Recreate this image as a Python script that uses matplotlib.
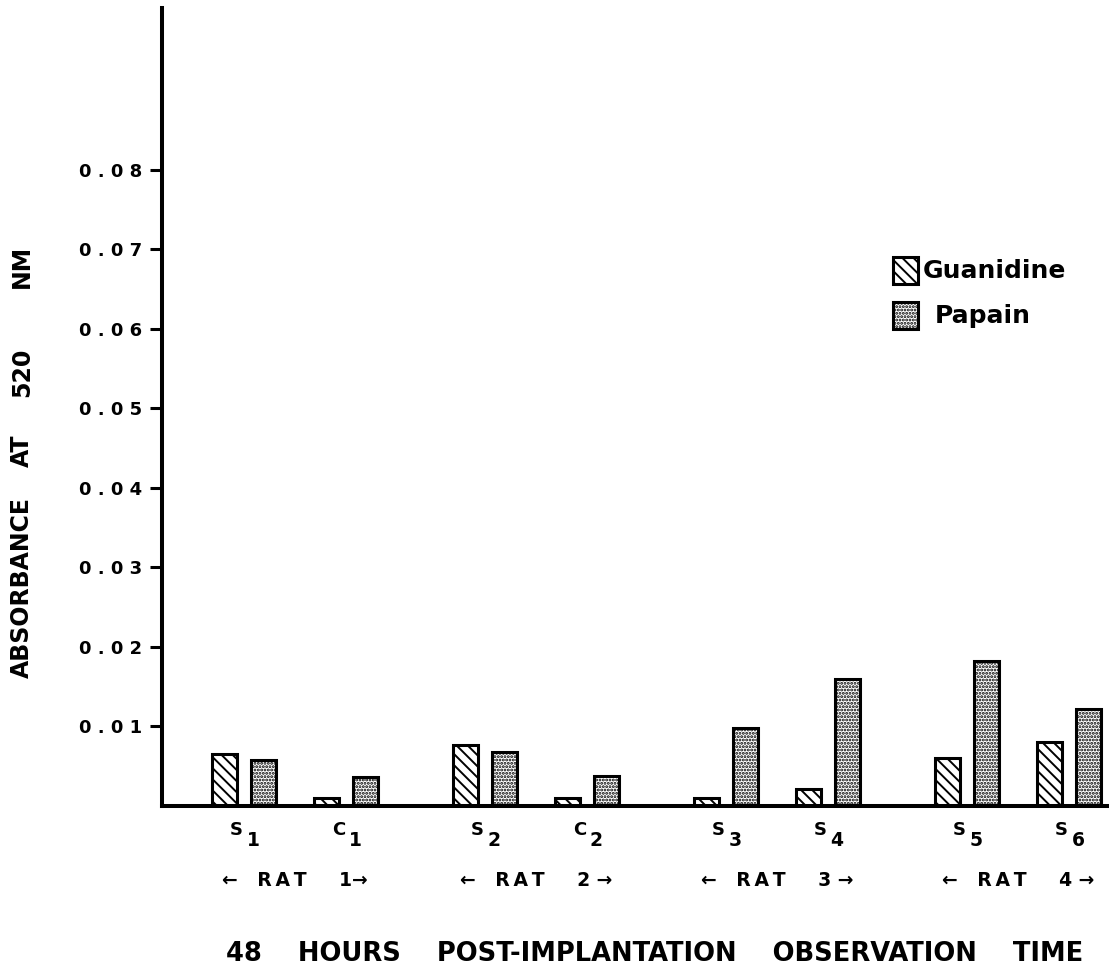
import matplotlib
matplotlib.use("Agg")
import matplotlib.pyplot as plt
from matplotlib.patches import Rectangle

# ---- data -------------------------------------------------------------
samples = ["S", "C", "S", "C", "S", "S", "S", "S"]
sample_nums = ["1", "1", "2", "2", "3", "4", "5", "6"]
rat_of_sample = [0, 0, 1, 1, 2, 2, 3, 3]
slot_in_rat = [0, 1, 0, 1, 0, 1, 0, 1]
rat_labels = ["←   R\u2009A\u2009T     1→", "←   R\u2009A\u2009T     2 →",
              "←   R\u2009A\u2009T     3 →", "←   R\u2009A\u2009T     4 →"]

guanidine = [0.0065, 0.0010, 0.0077, 0.0010, 0.0010, 0.0021, 0.0060, 0.0080]
papain = [0.0058, 0.0036, 0.0068, 0.0038, 0.0098, 0.0160, 0.0182, 0.0122]

y_ticks = [0.01, 0.02, 0.03, 0.04, 0.05, 0.06, 0.07, 0.08]
y_ticklabels = ["0 . 0 1", "0 . 0 2", "0 . 0 3", "0 . 0 4",
                "0 . 0 5", "0 . 0 6", "0 . 0 7", "0 . 0 8"]

# ---- layout -----------------------------------------------------------
W, H = 1109, 974
RAT_STEP, PAIR_STEP = 2.41, 1.02
BAR_W, BAR_OFF = 0.25, 0.195
G_HATCH, P_HATCH = "\\\\\\", "....."

plt.rcParams["font.family"] = ["DejaVu Sans"]
plt.rcParams["font.weight"] = "bold"
plt.rcParams["hatch.linewidth"] = 1.4

fig = plt.figure(figsize=(W / 100, H / 100), dpi=100)
fig.patch.set_facecolor("white")


def fx(px):
    return px / W


def fy(py):
    return 1 - py / H


ax_left, ax_bottom_px, ax_top_px = 162, 806, 8
ax = fig.add_axes([fx(ax_left), fy(ax_bottom_px), 1 - fx(ax_left),
                   (ax_bottom_px - ax_top_px) / H])

centers = [RAT_STEP * r + PAIR_STEP * j for r, j in zip(rat_of_sample, slot_in_rat)]
g_x = [c - BAR_OFF for c in centers]
p_x = [c + BAR_OFF for c in centers]

ax.bar(g_x, guanidine, width=BAR_W, facecolor="white", edgecolor="black",
       linewidth=2.2, hatch=G_HATCH, zorder=2)
ax.bar(p_x, papain, width=BAR_W, facecolor="white", edgecolor="black",
       linewidth=2.2, hatch=P_HATCH, zorder=2)

ax.set_xlim(-0.82, 8.65)
ax.set_ylim(0, 0.1003)

for side in ("top", "right"):
    ax.spines[side].set_visible(False)
for side in ("left", "bottom"):
    ax.spines[side].set_linewidth(2.9)
    ax.spines[side].set_zorder(3)

ax.set_xticks([])
ax.set_yticks(y_ticks)
ax.set_yticklabels(y_ticklabels, fontsize=13, fontweight="bold")
ax.tick_params(axis="y", direction="out", length=8.5, width=2.2, pad=5.5)

# sample labels with subscript numbers
for c, s, n in zip(centers, samples, sample_nums):
    ax.annotate(s, xy=(c, 0), xycoords=("data", "axes fraction"),
                xytext=(-5.5, -17), textcoords="offset points",
                ha="center", va="center", fontsize=13, fontweight="bold")
    ax.annotate(n, xy=(c, 0), xycoords=("data", "axes fraction"),
                xytext=(6.5, -25), textcoords="offset points",
                ha="center", va="center", fontsize=13.5, fontweight="bold")

# rat group labels
for r, lab in enumerate(rat_labels):
    mid = RAT_STEP * r + PAIR_STEP / 2
    ax.annotate(lab, xy=(mid, 0), xycoords=("data", "axes fraction"),
                xytext=(0, -54), textcoords="offset points",
                ha="center", va="center", fontsize=13.5, fontweight="bold")

# x-axis title
fig.text(fx(655), fy(954),
         "48    HOURS    POST-IMPLANTATION    OBSERVATION    TIME",
         ha="center", va="center", fontsize=18.5, fontweight="bold")

# y-axis title, drawn word by word
for word, ypx in [("ABSORBANCE", 588), ("AT", 451), ("520", 372), ("NM", 266)]:
    fig.text(fx(22), fy(ypx), word, rotation=90, ha="center", va="center",
             fontsize=17, fontweight="bold")

# legend
leg_items = [("Guanidine", G_HATCH, 257, 923), ("Papain", P_HATCH, 302, 935)]
for name, hatch, top_px, text_px in leg_items:
    fig.patches.append(Rectangle((fx(893), fy(top_px + 27)), fx(25), 27 / H,
                                 transform=fig.transFigure, facecolor="white",
                                 edgecolor="black", linewidth=2.2, hatch=hatch))
    fig.text(fx(text_px), fy(top_px + 14), name, ha="left", va="center",
             fontsize=18, fontweight="bold")

fig.savefig("out.png", dpi=100, facecolor="white")
